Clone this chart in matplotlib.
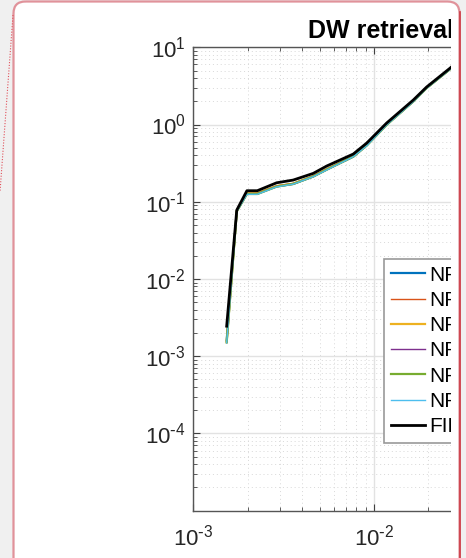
import matplotlib
matplotlib.use('Agg')
import matplotlib.pyplot as plt
from matplotlib.patches import FancyBboxPatch, Rectangle
from matplotlib.lines import Line2D
from matplotlib.ticker import LogLocator, NullFormatter, FixedFormatter
import matplotlib.transforms as mtransforms
import numpy as np

plt.rcParams['font.family'] = ['Liberation Sans', 'DejaVu Sans']
plt.rcParams['mathtext.default'] = 'regular'
plt.rcParams['axes.unicode_minus'] = False

# ---------------- data ----------------
freq = [0.00153, 0.00174, 0.00198, 0.00226, 0.00289, 0.00357, 0.00461,
        0.00547, 0.00768, 0.00912, 0.01175, 0.0165, 0.01955, 0.0263, 0.05]

nf1 = [0.00160, 0.076, 0.127, 0.127, 0.158, 0.170, 0.213, 0.262, 0.385, 0.540, 1.00, 2.00, 2.98, 5.20, 19.0]
nf2 = [0.00150, 0.075, 0.129, 0.130, 0.161, 0.173, 0.216, 0.266, 0.389, 0.546, 1.01, 2.01, 2.99, 5.22, 19.0]
nf3 = [0.00155, 0.076, 0.128, 0.128, 0.159, 0.171, 0.214, 0.263, 0.386, 0.542, 1.00, 2.00, 2.98, 5.21, 19.0]
nf4 = [0.00152, 0.075, 0.127, 0.127, 0.158, 0.170, 0.212, 0.261, 0.384, 0.538, 1.00, 1.99, 2.97, 5.20, 19.0]
nf5 = [0.00151, 0.075, 0.126, 0.126, 0.157, 0.170, 0.212, 0.260, 0.384, 0.536, 0.99, 1.99, 2.97, 5.19, 19.0]
nf6 = [0.00149, 0.075, 0.125, 0.125, 0.156, 0.169, 0.211, 0.258, 0.383, 0.533, 0.99, 1.98, 2.96, 5.18, 19.0]
fir = [0.00245, 0.078, 0.139, 0.139, 0.176, 0.191, 0.233, 0.290, 0.415, 0.576, 1.046, 2.077, 3.06, 5.35, 19.5]

series = [nf1, nf2, nf3, nf4, nf5, nf6]
labels = ['NF1', 'NF2', 'NF3', 'NF4', 'NF5', 'NF6']
fir_label = 'FIR'
colors = ['#0072BD', '#D95319', '#EDB120', '#7E2F8E', '#77AC30', '#4DBEEE']
widths = [1.6, 1.0, 1.6, 1.0, 1.6, 1.0]

xticks = [1e-3, 1e-2]
xticklabels = [r'$10^{\text{-}3}$', r'$10^{\text{-}2}$']
yticks = [1e-4, 1e-3, 1e-2, 1e-1, 1e0, 1e1]
yticklabels = [r'$10^{\text{-}4}$', r'$10^{\text{-}3}$', r'$10^{\text{-}2}$',
               r'$10^{\text{-}1}$', r'$10^{0}$', r'$10^{1}$']
title = 'DW retrieval'

# ---------------- figure ----------------
W, H = 466, 558
fig = plt.figure(figsize=(W / 100, H / 100), dpi=100, facecolor='#f0f0f0')
px = mtransforms.Affine2D().scale(1 / W, -1 / H).translate(0, 1) + fig.transFigure

frame_fill = FancyBboxPatch((13.5, 1.5), 446, 620,
                            boxstyle='round,pad=0,rounding_size=12',
                            transform=px, facecolor='white', edgecolor='none',
                            zorder=-1)
fig.add_artist(frame_fill)

ax = fig.add_axes([193.3 / W, 1 - 510.7 / H, 361.4 / W, 463.4 / H])
ax.set_xscale('log')
ax.set_yscale('log')
for s, lab, c, lw in zip(series, labels, colors, widths):
    ax.plot(freq, s, color=c, lw=lw, label=lab)
ax.plot(freq, fir, color='black', lw=2.0, label=fir_label)

ax.set_xlim(1e-3, 1e-1)
ax.set_ylim(1e-5, 1e1)
ax.set_xticks(xticks)
ax.set_xticklabels(xticklabels)
ax.set_yticks(yticks)
ax.set_yticklabels(yticklabels)
ax.yaxis.set_minor_locator(LogLocator(base=10, subs=np.arange(2, 10), numticks=100))
ax.xaxis.set_minor_locator(LogLocator(base=10, subs=np.arange(2, 10), numticks=100))
ax.yaxis.set_minor_formatter(NullFormatter())
ax.xaxis.set_minor_formatter(NullFormatter())

ax.set_axisbelow(True)
ax.grid(which='major', color='#e2e2e2', lw=1.0, ls='-')
ax.grid(which='minor', color='#d8d8d8', lw=0.7, ls=(0, (1, 3)))

ax.tick_params(which='both', direction='in', top=True, right=True,
               color='#404040', labelsize=16, labelcolor='#262626')
ax.tick_params(which='major', length=5, width=0.8)
ax.tick_params(which='minor', length=3, width=0.6)
ax.tick_params(axis='y', pad=5.5)
ax.tick_params(axis='x', pad=10)
for sp in ax.spines.values():
    sp.set_color('#555555')
    sp.set_linewidth(1.0)

leg = ax.legend(loc='upper left', bbox_to_anchor=(384, 259), bbox_transform=px,
                borderaxespad=0, fontsize=15, handlelength=1.65,
                handletextpad=0.2, labelspacing=0.3, borderpad=0.32,
                fancybox=False, framealpha=1, edgecolor='#999999')
leg.get_frame().set_linewidth(1.2)

fig.text(308, 38.3, title, transform=px, fontsize=18, fontweight='bold',
         va='baseline', ha='left', color='black')

# clipping of the screenshot at the right side
gray = Rectangle((451, 0), 30, H + 10, transform=px, facecolor='#f0f0f0',
                 edgecolor='none', zorder=5)
fig.add_artist(gray)
white = Rectangle((451, 0), 30, H + 10, transform=px, facecolor='white',
                  edgecolor='none', zorder=6)
fig.add_artist(white)
white.set_clip_path(frame_fill)

frame_edge = FancyBboxPatch((13.5, 1.5), 446, 620,
                            boxstyle='round,pad=0,rounding_size=12',
                            transform=px, facecolor='none', edgecolor='#e0929a',
                            lw=1.6, zorder=7)
fig.add_artist(frame_edge)
fig.add_artist(Line2D([459.5, 459.5], [12, H + 5], transform=px,
                      color='#cc3a44', lw=1.2, zorder=8))
fig.add_artist(Line2D([13, 0], [15, 192], transform=px, color='#e0505a',
                      lw=0.8, ls=(0, (1, 1.5)), zorder=8))

fig.savefig('out.png', dpi=100, facecolor=fig.get_facecolor())
